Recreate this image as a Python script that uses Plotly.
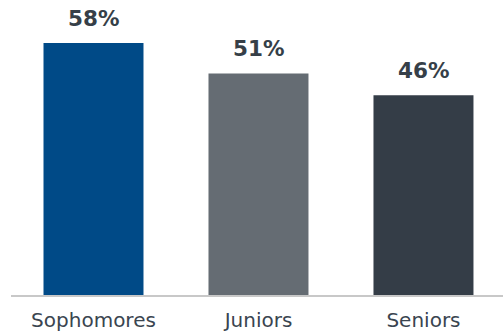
import plotly.graph_objects as go

categories = ["Sophomores", "Juniors", "Seniors"]
values = [58, 51, 46]
labels = ["58%", "51%", "46%"]
colors = ["#004a87", "#656c73", "#343d47"]

fig = go.Figure()
fig.add_trace(go.Bar(
    x=categories, y=values, marker_color=colors, marker_line_width=0,
    hoverinfo="skip",
))
for c, v, t in zip(categories, values, labels):
    fig.add_annotation(x=c, y=v, text="<b>%s</b>" % t, showarrow=False,
                       yanchor="bottom", yshift=10,
                       font=dict(family="DejaVu Sans", size=21.5, color="#363f48"))

fig.update_layout(
    width=503, height=334,
    margin=dict(l=11, r=0, t=0, b=39, autoexpand=False),
    paper_bgcolor="white", plot_bgcolor="white",
    bargap=0.394,
    showlegend=False,
    xaxis=dict(range=[-0.5, 2.482], showline=True, linecolor="#c8c8c8", linewidth=2,
               ticks="", showgrid=False, zeroline=False, ticklabelstandoff=6,
               automargin=False,
               tickfont=dict(family="DejaVu Sans", size=20, color="#3a4550")),
    yaxis=dict(range=[0, 67.9], visible=False, showgrid=False, zeroline=False,
               automargin=False),
)
fig.write_html("out.html")
